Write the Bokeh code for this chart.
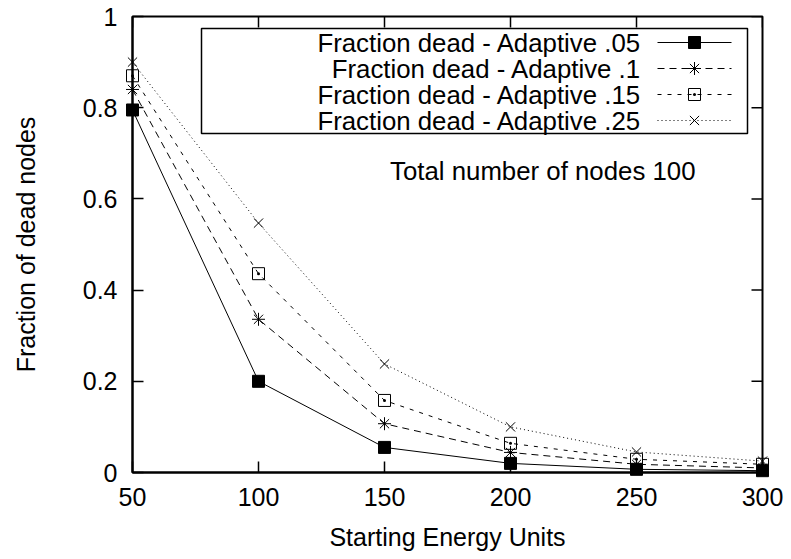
from bokeh.plotting import figure
from bokeh.models import Range1d, FixedTicker
from bokeh.core.properties import value
from bokeh.embed import file_html
from bokeh.resources import INLINE

# ---- data ----
energy = [50, 100, 150, 200, 250, 300]
dead_adaptive_05 = [0.795, 0.200, 0.055, 0.020, 0.007, 0.004]
dead_adaptive_10 = [0.840, 0.336, 0.107, 0.044, 0.018, 0.010]
dead_adaptive_15 = [0.870, 0.436, 0.158, 0.064, 0.029, 0.018]
dead_adaptive_25 = [0.900, 0.547, 0.238, 0.100, 0.045, 0.025]
series_labels = ["Fraction dead - Adaptive .05", "Fraction dead - Adaptive .1",
                 "Fraction dead - Adaptive .15", "Fraction dead - Adaptive .25"]
x_ticks = [50, 100, 150, 200, 250, 300]
x_tick_labels = ["50", "100", "150", "200", "250", "300"]
y_ticks = [0, 0.2, 0.4, 0.6, 0.8, 1.0]
y_tick_labels = ["0", "0.2", "0.4", "0.6", "0.8", "1"]
x_title = "Starting Energy Units"
y_title = "Fraction of dead nodes"
note_text = "Total number of nodes 100"

# ---- layout ----
FONT = "Liberation Sans"
FS = "25px"
FS_LEG = "25.8px"
W, H = 791, 559
L, R, T, B = 132, 29, 16, 87
FW, FH = W - L - R, H - T - B
X0, X1, Y0, Y1 = 50, 300, 0, 1
TICK = 11


def dx(px):
    return X0 + (px - L) * (X1 - X0) / FW


def dy(py):
    return Y0 + (H - B - py) * (Y1 - Y0) / FH


p = figure(width=W, height=H, output_backend="svg", toolbar_location=None,
           x_range=Range1d(X0, X1), y_range=Range1d(Y0, Y1),
           min_border_left=L, min_border_right=R, min_border_top=T, min_border_bottom=B,
           x_axis_label=x_title, y_axis_label=y_title)
p.grid.visible = False
p.outline_line_color = "black"
p.outline_line_width = 2
p.background_fill_color = "white"
p.border_fill_color = "white"

for ax in p.xaxis:
    ax.ticker = FixedTicker(ticks=x_ticks)
    ax.major_label_overrides = {t: s for t, s in zip(x_ticks, x_tick_labels)}
for ax in p.yaxis:
    ax.ticker = FixedTicker(ticks=y_ticks)
    ax.major_label_overrides = {t: s for t, s in zip(y_ticks, y_tick_labels)}

for ax in list(p.xaxis) + list(p.yaxis):
    ax.axis_line_width = 2
    ax.axis_line_color = "black"
    ax.major_tick_in = TICK
    ax.major_tick_out = 0
    ax.major_tick_line_width = 1.5
    ax.minor_tick_line_color = None
    ax.major_label_text_font = FONT
    ax.major_label_text_font_size = FS
    ax.major_label_text_color = "black"
    ax.major_label_standoff = 15
    ax.axis_label_text_font = FONT
    ax.axis_label_text_font_size = FS
    ax.axis_label_text_font_style = "normal"
    ax.axis_label_text_color = "black"
p.xaxis.axis_label_standoff = 14
p.yaxis.axis_label_standoff = 40

# mirror ticks on top and right edges (gnuplot style)
p.segment(x0=x_ticks, y0=[dy(T)] * len(x_ticks), x1=x_ticks, y1=[dy(T + TICK)] * len(x_ticks),
          line_color="black", line_width=1.5)
p.segment(x0=[dx(W - R)] * len(y_ticks), y0=y_ticks, x1=[dx(W - R - TICK)] * len(y_ticks),
          y1=y_ticks, line_color="black", line_width=1.5)

series = [dead_adaptive_05, dead_adaptive_10, dead_adaptive_15, dead_adaptive_25]
dashes = ["solid", "7 5", "4 6", "1 3"]
markers = ["square", "asterisk", "square_dot", "x"]
fills = ["black", None, None, None]
sizes = [12, 13, 12, 13]

for vals, dash, mk, fc, sz in zip(series, dashes, markers, fills, sizes):
    p.line(energy, vals, line_color="black", line_width=1, line_dash=dash)
    p.scatter(energy, vals, marker=mk, size=sz, fill_color=fc, line_color="black",
              line_width=1, level="overlay")

# ---- legend (gnuplot-style: text right-aligned, sample on the right) ----
p.quad(left=[dx(201)], right=[dx(747)], top=[dy(28)], bottom=[dy(133)],
       fill_color="white", line_color="black", line_width=1.5)
row_y = [42, 68, 94, 120]
for lab, ry, dash, mk, fc, sz in zip(series_labels, row_y, dashes, markers, fills, sizes):
    p.text(x=[dx(641)], y=[dy(ry)], text=[lab], text_align="right", text_baseline="middle",
           text_font=value(FONT), text_font_size=FS_LEG, text_color="black")
    p.segment(x0=[dx(657)], y0=[dy(ry)], x1=[dx(731)], y1=[dy(ry)],
              line_color="black", line_width=1, line_dash=dash)
    p.scatter(x=[dx(694)], y=[dy(ry)], marker=mk, size=sz, fill_color=fc,
              line_color="black", line_width=1)

p.text(x=[dx(695)], y=[dy(170)], text=[note_text], text_align="right", text_baseline="middle",
       text_font=value(FONT), text_font_size=FS_LEG, text_color="black")

open("out.html", "w").write(file_html(p, INLINE))
